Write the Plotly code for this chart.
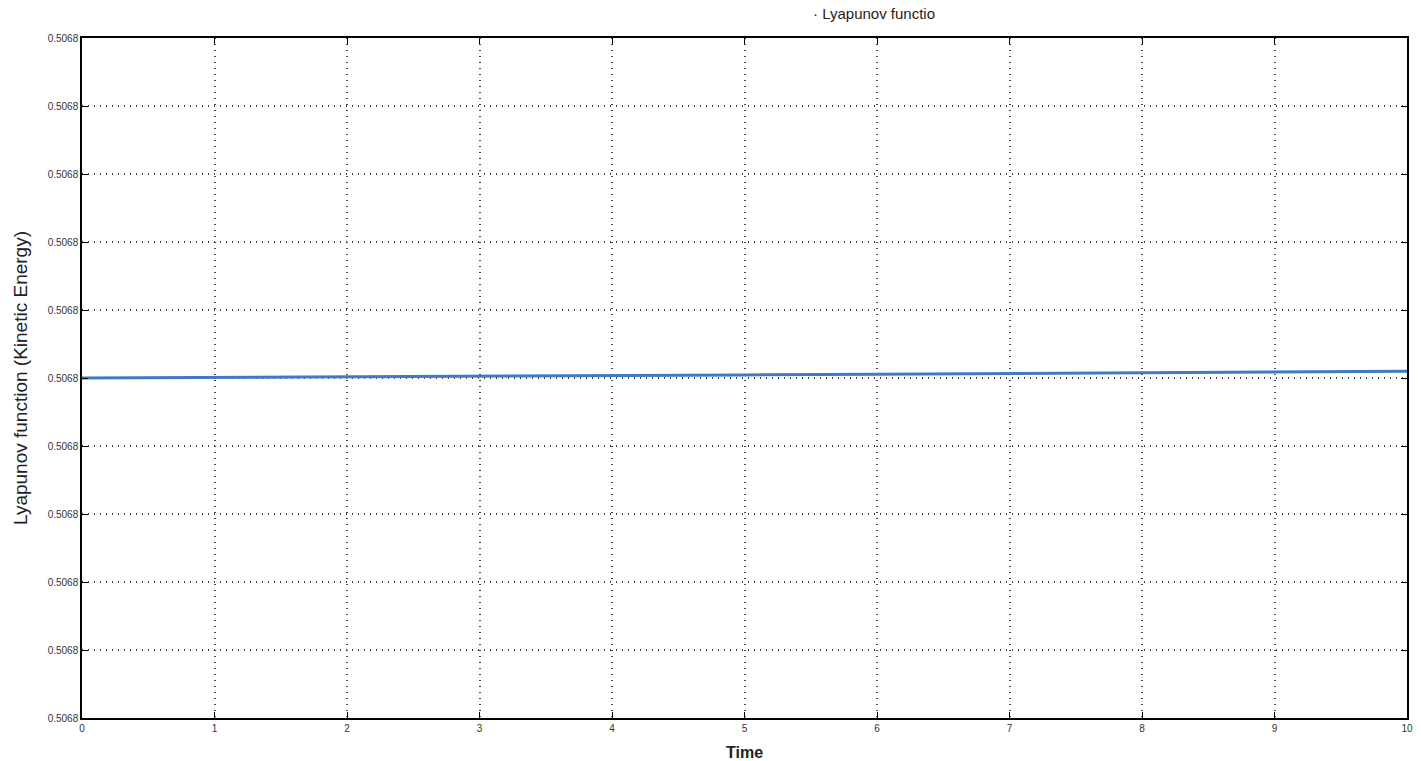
import plotly.graph_objects as go

time = [0, 1, 2, 3, 4, 5, 6, 7, 8, 9, 10]
energy = [0.5068000, 0.50680007, 0.50680015, 0.50680025, 0.50680035, 0.50680045,
          0.50680055, 0.50680065, 0.50680075, 0.50680088, 0.50680100]

y_tickvals = [0.50675 + i * 0.00001 for i in range(11)]
y_ticktext = ["0.5068"] * 11
x_tickvals = list(range(11))
x_ticktext = [str(v) for v in x_tickvals]

fig = go.Figure()
fig.add_trace(go.Scatter(x=time, y=energy, mode="lines",
                         line=dict(color="#3f7ac4", width=3), showlegend=False))

axis_common = dict(showline=True, linecolor="black", linewidth=1.5, mirror="ticks",
                   ticks="inside", ticklen=6, tickcolor="black",
                   showgrid=True, gridcolor="#444444", griddash="1px,5px", gridwidth=1.5,
                   zeroline=False, automargin=False,
                   tickfont=dict(family="Liberation Sans", size=10, color="#333333"))

fig.update_xaxes(range=[0, 10], tickvals=x_tickvals, ticktext=x_ticktext,
                 title=dict(text="<b>Time</b>", font=dict(family="Liberation Sans", size=16, color="#222222")),
                 **axis_common)
fig.update_yaxes(range=[y_tickvals[0], y_tickvals[-1]], tickvals=y_tickvals, ticktext=y_ticktext,
                 title=dict(text="Lyapunov function (Kinetic Energy)", font=dict(family="Liberation Sans", size=19, color="#222222")),
                 **axis_common)

fig.add_annotation(text="· Lyapunov functio", x=0.598, y=1.0, xref="paper", yref="paper",
                   xanchor="center", yanchor="bottom", yshift=14, showarrow=False,
                   font=dict(family="Liberation Sans", size=15, color="#222222"))

fig.update_layout(width=1421, height=761, margin=dict(l=82, r=14, t=38, b=43),
                  plot_bgcolor="white", paper_bgcolor="white")

fig.write_html("out.html")
